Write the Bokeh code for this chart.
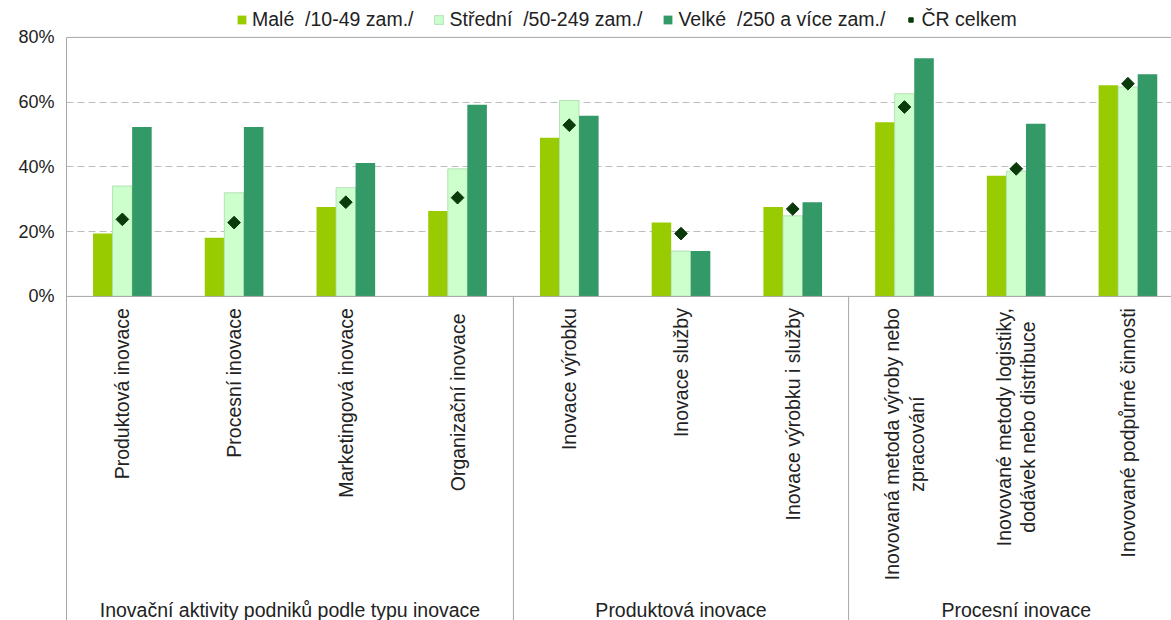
from math import pi
from bokeh.plotting import figure
from bokeh.models import Range1d, FixedTicker, Span, Legend, LegendItem, ColumnDataSource
from bokeh.core.properties import value
from bokeh.embed import file_html
from bokeh.resources import INLINE

categories = [
    "Produktová inovace",
    "Procesní inovace",
    "Marketingová inovace",
    "Organizační  inovace",
    "Inovace výrobku",
    "Inovace služby",
    "Inovace výrobku i služby",
    "Inovovaná metoda výroby nebo\nzpracování",
    "Inovované metody logistiky,\ndodávek nebo distribuce",
    "Inovované podpůrné činnosti",
]
male = [19.4, 18.1, 27.6, 26.4, 49.0, 22.8, 27.6, 53.8, 37.3, 65.2]
stredni = [34.1, 32.0, 33.6, 39.4, 60.5, 14.0, 24.9, 62.6, 38.7, 64.7]
velke = [52.3, 52.3, 41.2, 59.2, 55.8, 14.0, 29.1, 73.6, 53.3, 68.6]
cr_celkem = [23.8, 22.8, 29.1, 30.5, 52.9, 19.4, 27.0, 58.5, 39.4, 65.7]
sections = ["Inovační aktivity podniků podle typu inovace", "Produktová inovace", "Procesní inovace"]
section_sizes = [4, 3, 3]
series_names = ["Malé  /10-49 zam./", "Střední  /50-249 zam./", "Velké  /250 a více zam./", "ČR celkem"]
y_ticks = [0, 20, 40, 60, 80]
y_tick_labels = ["0%", "20%", "40%", "60%", "80%"]

FONT = "Liberation Sans"
TXT = "#222222"
C_MALE = "#99CC00"
C_STR = "#CCFFCC"
C_VEL = "#339966"
C_CR = "#0A3A0A"

n = len(categories)
centers = [i + 0.5 for i in range(n)]
bw = 0.175

p = figure(width=1171, height=620, output_backend="svg", toolbar_location=None,
           x_range=Range1d(0, 9.89), y_range=Range1d(-100.1, 91.4),
           x_axis_location=None, min_border_left=66, min_border_right=0,
           min_border_top=0, min_border_bottom=0)
p.outline_line_color = None
p.background_fill_color = "white"
p.border_fill_color = "white"

# y axis
ya = p.yaxis[0]
ya.ticker = FixedTicker(ticks=y_ticks)
ya.major_label_overrides = {t: l for t, l in zip(y_ticks, y_tick_labels)}
ya.bounds = (-100.1, 80)
ya.axis_line_color = "#A6A6A6"
ya.major_tick_line_color = None
ya.minor_tick_line_color = None
ya.major_label_text_font = FONT
ya.major_label_text_font_size = "18px"
ya.major_label_text_color = TXT
ya.major_label_standoff = 6

p.xgrid.visible = False
p.ygrid.ticker = FixedTicker(ticks=[20, 40, 60])
p.ygrid.grid_line_color = "#BDBDBD"
p.ygrid.grid_line_dash = "7 4"

p.add_layout(Span(location=0, dimension="width", line_color="#A6A6A6", line_width=1))
p.add_layout(Span(location=80, dimension="width", line_color="#A6A6A6", line_width=1))

# separators between sections
bounds = []
acc = 0
for s in section_sizes[:-1]:
    acc += s
    bounds.append(acc)
p.segment(x0=bounds, y0=[0] * len(bounds), x1=bounds, y1=[-100.1] * len(bounds),
          line_color="#A6A6A6", line_width=1)

r1 = p.vbar(x=[c - bw for c in centers], top=male, width=bw, fill_color=C_MALE, line_color=None)
r2 = p.vbar(x=centers, top=stredni, width=bw, fill_color=C_STR, line_color="#A9D9A9", line_width=0.8)
r3 = p.vbar(x=[c + bw for c in centers], top=velke, width=bw, fill_color=C_VEL, line_color=None)
r4 = p.scatter(x=centers, y=cr_celkem, marker="square", angle=pi / 4, size=9,
               fill_color=C_CR, line_color=C_CR)

# category labels (rotated)
src = ColumnDataSource(dict(x=centers, y=[-3.6] * n, t=categories))
p.text(x="x", y="y", text="t", source=src, angle=pi / 2, anchor="center_right",
       text_align="center", text_baseline="middle", text_font=value(FONT),
       text_font_size="19.5px", text_color=TXT, text_line_height=1.1)

# section labels
sec_x = []
acc = 0
for s in section_sizes:
    sec_x.append(acc + s / 2)
    acc += s
p.text(x=sec_x, y=[-97.0] * len(sec_x), text=sections, text_align="center",
       text_baseline="middle", text_font=value(FONT), text_font_size="19.5px", text_color=TXT)

legend = Legend(items=[
    LegendItem(label=series_names[0], renderers=[r1]),
    LegendItem(label=series_names[1], renderers=[r2]),
    LegendItem(label=series_names[2], renderers=[r3]),
    LegendItem(label=series_names[3], renderers=[r4]),
], orientation="horizontal", location=(170, 589))
legend.background_fill_alpha = 0
legend.border_line_color = None
legend.label_text_font = FONT
legend.label_text_font_size = "19.5px"
legend.label_text_color = TXT
legend.label_height = 14
legend.glyph_width = 11
legend.glyph_height = 11
legend.label_standoff = 5
legend.spacing = 20
legend.padding = 0
legend.margin = 0
p.add_layout(legend)

open("out.html", "w").write(file_html(p, INLINE))
